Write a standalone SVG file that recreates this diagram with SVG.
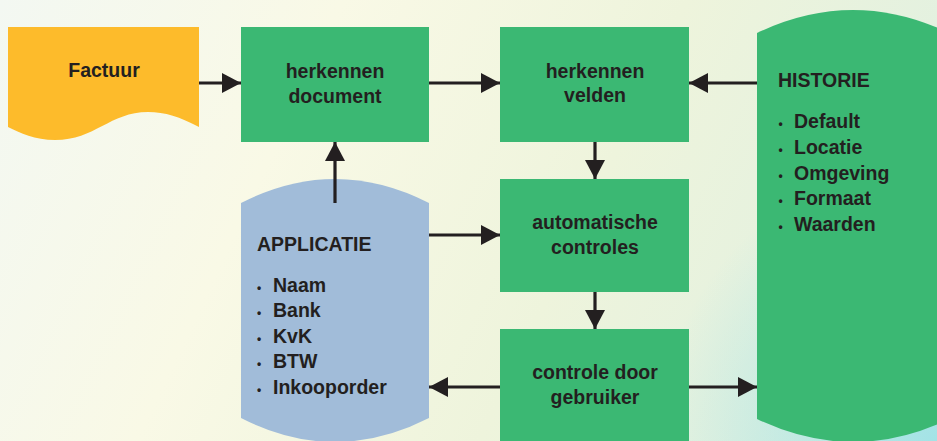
<svg xmlns="http://www.w3.org/2000/svg" width="937" height="441" viewBox="0 0 937 441">
<defs>
<linearGradient id="bg" x1="0" y1="0" x2="937" y2="441" gradientUnits="userSpaceOnUse">
<stop offset="0" stop-color="#f3f8f2"/>
<stop offset="0.3" stop-color="#f9f9e6"/>
<stop offset="0.6" stop-color="#eef4dc"/>
<stop offset="1" stop-color="#dcefe2"/>
</linearGradient>
<radialGradient id="cy" cx="937" cy="441" r="280" gradientUnits="userSpaceOnUse">
<stop offset="0" stop-color="#a3e3e6" stop-opacity="1"/>
<stop offset="1" stop-color="#a3e3e6" stop-opacity="0"/>
</radialGradient>
<marker id="ah" markerUnits="userSpaceOnUse" markerWidth="19" markerHeight="20" refX="19" refY="10" orient="auto">
<path d="M0,0 L19,10 L0,20 Z" fill="#231f20"/>
</marker>
<style>
.box{fill:#3bb873}
.t{font-family:"Liberation Sans",Arial,sans-serif;font-weight:bold;font-size:19.5px;fill:#231f20}
.c{text-anchor:middle}
.b{font-size:12px}
.ln{stroke:#231f20;stroke-width:3.2;fill:none;marker-end:url(#ah)}
</style>
</defs>
<rect width="937" height="441" fill="url(#bg)"/>
<rect width="937" height="441" fill="url(#cy)"/>

<g id="factuur">
<path d="M8,27 H199 V127 C180,117 165,112 148,112 C110,112 95,140 55,140 C35,140 20,133 8,127 Z" fill="#fdbb2b"/>
<text class="t c" x="104" y="77">Factuur</text>
</g>

<g id="herkennen-document">
<rect class="box" x="241" y="27" width="188" height="115"/>
<text class="t c" x="335" y="78">herkennen</text>
<text class="t c" x="335" y="103">document</text>
</g>

<g id="herkennen-velden">
<rect class="box" x="500" y="27" width="189" height="115"/>
<text class="t c" x="595" y="78">herkennen</text>
<text class="t c" x="595" y="102">velden</text>
</g>

<g id="automatische-controles">
<rect class="box" x="500" y="179" width="189" height="113"/>
<text class="t c" x="595" y="229">automatische</text>
<text class="t c" x="595" y="254">controles</text>
</g>

<g id="controle-door-gebruiker">
<rect class="box" x="500" y="329" width="189" height="120"/>
<text class="t c" x="595" y="379">controle door</text>
<text class="t c" x="595" y="404">gebruiker</text>
</g>

<g id="applicatie">
<path d="M241,203 Q335,155 429,203 V418 Q335,466 241,418 Z" fill="#a1bcd9"/>
<text class="t" x="257" y="251">APPLICATIE</text>
<text class="t" x="257" y="292"><tspan class="b">•</tspan><tspan x="273">Naam</tspan></text>
<text class="t" x="257" y="317"><tspan class="b">•</tspan><tspan x="273">Bank</tspan></text>
<text class="t" x="257" y="343"><tspan class="b">•</tspan><tspan x="273">KvK</tspan></text>
<text class="t" x="257" y="368"><tspan class="b">•</tspan><tspan x="273">BTW</tspan></text>
<text class="t" x="257" y="394"><tspan class="b">•</tspan><tspan x="273">Inkooporder</tspan></text>
</g>

<g id="historie">
<path d="M757,33 Q853,-13 949,33 V419 Q853,465 757,419 Z" fill="#3bb873"/>
<text class="t" x="778" y="87">HISTORIE</text>
<text class="t" x="778.5" y="128"><tspan class="b">•</tspan><tspan x="794">Default</tspan></text>
<text class="t" x="778.5" y="154"><tspan class="b">•</tspan><tspan x="794">Locatie</tspan></text>
<text class="t" x="778.5" y="180"><tspan class="b">•</tspan><tspan x="794">Omgeving</tspan></text>
<text class="t" x="778.5" y="205"><tspan class="b">•</tspan><tspan x="794">Formaat</tspan></text>
<text class="t" x="778.5" y="231"><tspan class="b">•</tspan><tspan x="794">Waarden</tspan></text>
</g>

<g id="connectors">
<line class="ln" x1="199" y1="83" x2="241" y2="83"/>
<line class="ln" x1="429" y1="83" x2="500" y2="83"/>
<line class="ln" x1="757" y1="83" x2="689" y2="83"/>
<line class="ln" x1="595" y1="142" x2="595" y2="179"/>
<line class="ln" x1="335" y1="203" x2="335" y2="142"/>
<line class="ln" x1="429" y1="235" x2="500" y2="235"/>
<line class="ln" x1="595" y1="292" x2="595" y2="329"/>
<line class="ln" x1="500" y1="387" x2="429" y2="387"/>
<line class="ln" x1="689" y1="387" x2="757" y2="387"/>
</g>
</svg>
